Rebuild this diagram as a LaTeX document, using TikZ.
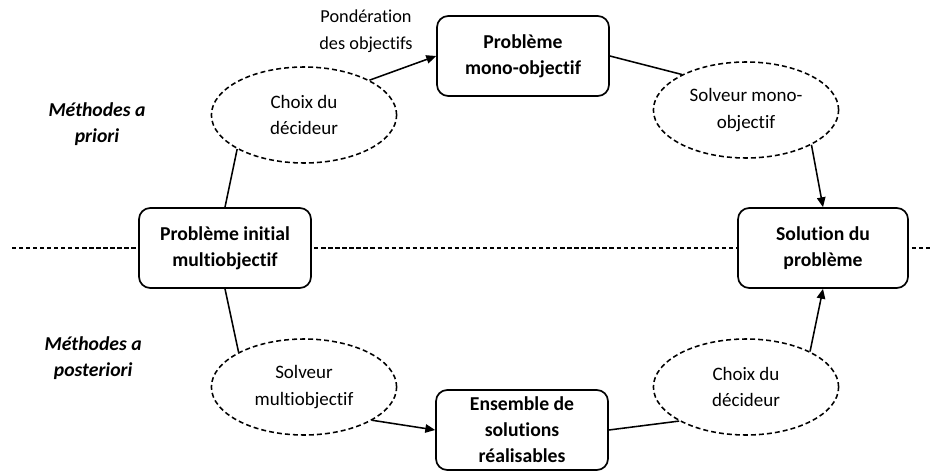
\documentclass[tikz,border=0pt]{standalone}
\usepackage{fontspec}
\setmainfont{Carlito}[Ligatures=NoCommon]
\usetikzlibrary{shapes.geometric, arrows.meta, positioning}

\begin{document}
\begin{tikzpicture}[
    box/.style={rectangle, rounded corners=8pt, draw, line width=1.2pt, fill=white,
                minimum width=4.3cm, minimum height=2cm, align=center,
                font=\fontsize{14}{18.5}\selectfont\bfseries},
    bubble/.style={ellipse, draw, dash pattern=on 3.5pt off 2.2pt, line width=1.1pt,
                fill=white, minimum width=4.63cm, minimum height=2.4cm, align=center,
                font=\fontsize{13.5}{19}\selectfont},
    side/.style={align=center, font=\fontsize{14}{18}\selectfont\bfseries\itshape},
    link/.style={line width=1.1pt},
    flow/.style={line width=1.1pt, -{Triangle[length=7pt, width=6pt]}},
    divider/.style={line width=0.8pt, dash pattern=on 3pt off 2pt}]

    \useasboundingbox (0,0) rectangle (23.25,-11.9);

    % separation a priori / a posteriori
    \coordinate (sepL) at (0.3,-6.2);
    \coordinate (sepR) at (23.25,-6.2);
    \draw[divider] (sepL) -- (sepR);

    \node[box] (initial) at (5.625,-6.2) {Problème initial\\multiobjectif};
    \node[box] (mono) at (13.075,-1.4) {Problème\\mono-objectif};
    \node[box, minimum width=4.25cm] (solution) at (20.575,-6.2) {Solution du\\problème};
    \node[box] (ensemble) at (13.05,-10.75) {Ensemble de\\solutions\\réalisables};

    \node[bubble] (choixA) at (7.6,-2.875) {Choix du\\décideur};
    \node[bubble] (solvA) at (18.65,-2.75) {Solveur mono-\\objectif};
    \node[bubble] (solvB) at (7.6,-9.675) {Solveur\\multiobjectif};
    \node[bubble] (choixB) at (18.65,-9.675) {Choix du\\décideur};

    \node[side] (priori) at (2.425,-3.1) {Méthodes a\\priori};
    \node[side] (posteriori) at (2.33,-8.95) {Méthodes a\\posteriori};
    \node[align=center, font=\fontsize{13}{19}\selectfont] (ponder) at (9.15,-0.78) {Pondération\\des objectifs};

    % a priori
    \draw[link] (initial.north) -- (choixA.207);
    \draw[flow] (choixA.28) -- (mono.west);
    \draw[link] (mono.east) -- (solvA.151);
    \draw[flow] (solvA.332) -- (solution.north);

    % a posteriori
    \draw[link] (initial.south) -- (solvB.152);
    \draw[flow] (solvB.334) -- (ensemble.west);
    \draw[link] (ensemble.east) -- (choixB.207);
    \draw[flow] (choixB.29) -- (solution.south);
\end{tikzpicture}
\end{document}
